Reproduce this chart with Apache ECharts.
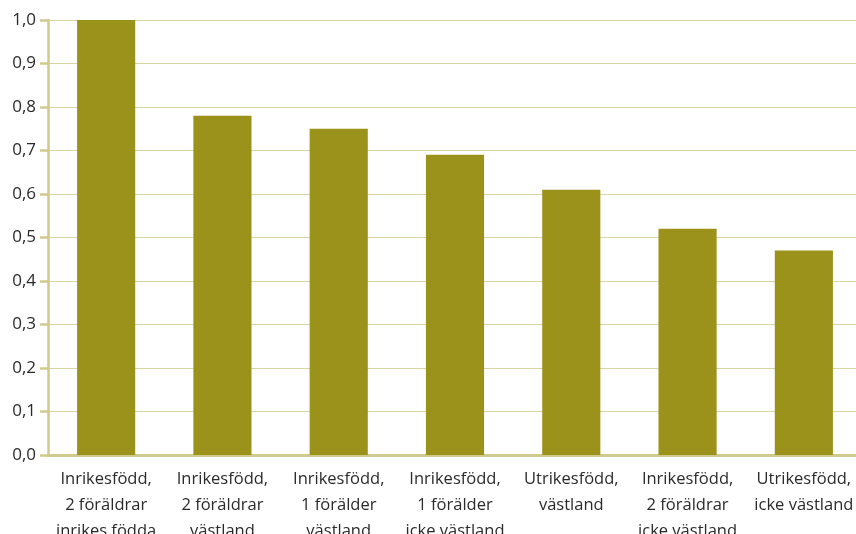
<!DOCTYPE html>
<html><head><meta charset="utf-8">
<script src="https://cdn.jsdelivr.net/npm/echarts@6/dist/echarts.min.js"></script>
<style>html,body{margin:0;padding:0;background:#fff}#c{width:856px;height:534px}</style>
</head><body><div id="c"></div>
<script>
const categories = [
  "Inrikesfödd,\n2 föräldrar\ninrikes födda",
  "Inrikesfödd,\n2 föräldrar\nvästland",
  "Inrikesfödd,\n1 förälder\nvästland",
  "Inrikesfödd,\n1 förälder\nicke västland",
  "Utrikesfödd,\nvästland",
  "Inrikesfödd,\n2 föräldrar\nicke västland",
  "Utrikesfödd,\nicke västland"
];
const values = [1.0, 0.78, 0.75, 0.69, 0.61, 0.52, 0.47];
const yMin = 0, yMax = 1.0, yStep = 0.1;

const chart = echarts.init(document.getElementById('c'), null, {renderer:'canvas'});
chart.setOption({
  animation:false,
  grid:{left:48, right:-6, top:20, bottom:79, containLabel:false, outerBoundsMode:'none'},
  xAxis:{
    type:'category', data:categories,
    axisLine:{lineStyle:{color:'#d0ca8e', width:3}},
    axisTick:{show:false},
    axisLabel:{color:'#2a2a2a', fontFamily:'Open Sans', fontSize:16.5, lineHeight:26, margin:11, interval:0}
  },
  yAxis:{
    type:'value', min:yMin, max:yMax, interval:yStep,
    axisLine:{show:true, lineStyle:{color:'#d0ca8e', width:2.5}},
    axisTick:{show:true, length:8, lineStyle:{color:'#d0ca8e', width:2.5}},
    splitLine:{lineStyle:{color:'#d9d5a0', width:1.2}},
    axisLabel:{color:'#2a2a2a', fontFamily:'Open Sans', fontSize:17, margin:12,
      formatter:v=>v.toFixed(1).replace('.',',')}
  },
  series:[{type:'bar', data:values, barWidth:'50%', itemStyle:{color:'#9b921b'}}]
});
</script></body></html>
